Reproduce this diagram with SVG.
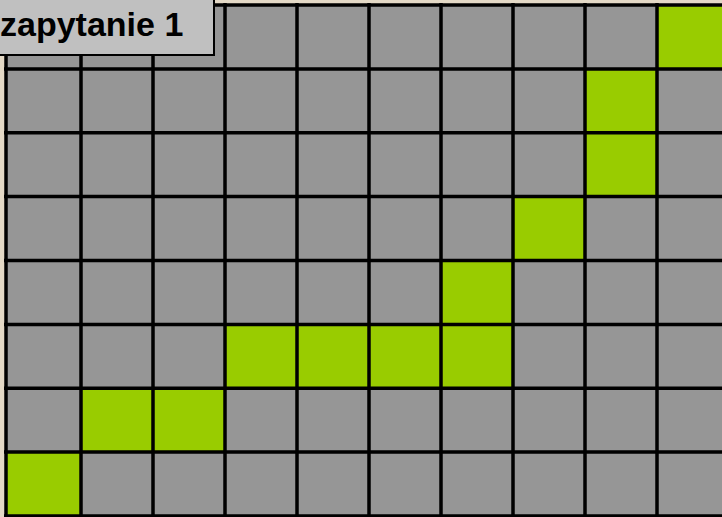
<svg xmlns="http://www.w3.org/2000/svg" width="722" height="517" viewBox="0 0 722 517">
  <style>
    .g { fill: #969696; }
    .hit { fill: #99cc00; }
    .ln { stroke: #000; stroke-width: 3.5; fill: none; }
    .lbl { font-family: "Liberation Sans", Arial, sans-serif; font-weight: bold; font-size: 34px; fill: #000; }
  </style>
  <rect id="background" x="0" y="0" width="722" height="517" fill="#e4d9c6"/>
  <g id="grid">
    <rect class="g" x="6" y="5" width="720" height="515"/>
    <g id="hits">
      <rect id="r0c9" class="hit" x="657" y="5" width="70" height="64"/>
      <rect id="r1c8" class="hit" x="585" y="69" width="72" height="64"/>
      <rect id="r2c8" class="hit" x="585" y="133" width="72" height="64"/>
      <rect id="r3c7" class="hit" x="513" y="197" width="72" height="64"/>
      <rect id="r4c6" class="hit" x="441" y="261" width="72" height="64"/>
      <rect id="r5c3" class="hit" x="225" y="325" width="72" height="64"/>
      <rect id="r5c4" class="hit" x="297" y="325" width="72" height="64"/>
      <rect id="r5c5" class="hit" x="369" y="325" width="72" height="64"/>
      <rect id="r5c6" class="hit" x="441" y="325" width="72" height="64"/>
      <rect id="r6c1" class="hit" x="81" y="389" width="72" height="64"/>
      <rect id="r6c2" class="hit" x="153" y="389" width="72" height="64"/>
      <rect id="r7c0" class="hit" x="6" y="453" width="75" height="64"/>
    </g>
    <g id="lines" class="ln">
      <path d="M6 3V517M81 3V517M153 3V517M225 3V517M297 3V517M369 3V517M441 3V517M513 3V517M585 3V517M657 3V517"/>
      <path d="M4 5H722M4 68.9H722M4 132.8H722M4 196.6H722M4 260.5H722M4 324.4H722M4 388.3H722M4 452.1H722M4 516H722"/>
    </g>
  </g>
  <g id="label">
    <rect x="-5" y="-5" width="219" height="60" fill="#c0c0c0" stroke="#000" stroke-width="2"/>
    <text class="lbl" x="0" y="36">zapytanie 1</text>
  </g>
</svg>
